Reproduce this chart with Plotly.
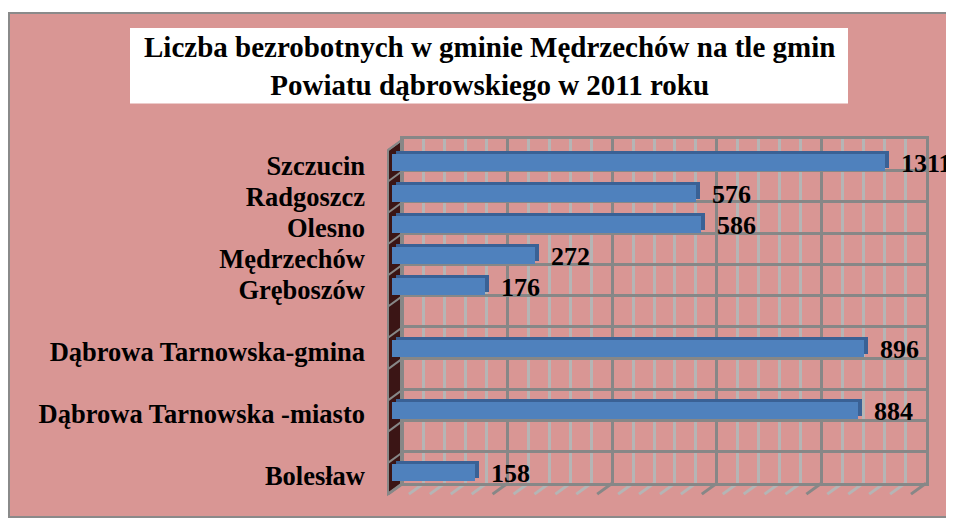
import plotly.graph_objects as go

# ---------------- data ----------------
categories = ["Szczucin", "Radgoszcz", "Olesno", "Mędrzechów", "Gręboszów", None,
              "Dąbrowa Tarnowska-gmina", None, "Dąbrowa Tarnowska -miasto", None, "Bolesław"]
label_values = [1311, 576, 586, 272, 176, None, 896, None, 884, None, 158]
# bar lengths as they are drawn in the picture (the Szczucin bar is drawn shorter than its label)
bar_lengths = [935, 576, 586, 272, 176, None, 896, None, 884, None, 158]
axis_max = 1000
major_step = 200
minor_step = 40
title_lines = ["Liczba bezrobotnych w gminie Mędrzechów na tle gmin",
               "Powiatu dąbrowskiego w 2011 roku"]

# ---------------- styling / geometry (page pixels) ----------------
PAGE_W, PAGE_H = 954, 525
OFF = 8                      # default body margin of the html page
W, H = PAGE_W - OFF, PAGE_H - OFF
def fx(px):
    return (px - OFF) / W
def fy(py):
    return 1 - (py - OFF) / H

PINK = "#D99694"
DARK_GRID = "#878787"
LIGHT_GRID = "#B5B5B5"
WALL = "#3B1515"
BAR_FRONT = "#4F81BD"
BAR_SIDE = "#3A6195"
FONT = "Liberation Serif, Times New Roman, serif"

FRONT_L, FRONT_R = 392, 919          # value axis of the bars' front faces
SLOT_T, SLOT_B = 147.7, 491.0        # category band of the front faces
BACK_L, BACK_R, BACK_T, BACK_B = 403, 926, 140, 486   # back wall
DDX, DDY = 15, 11                    # depth offset back -> front
BDX, BDY = 4, 3                      # bar depth offset

n = len(categories)
slots = [i for i, c in enumerate(categories) if c is not None]
names = [categories[i] for i in slots]
lengths = [bar_lengths[i] for i in slots]
labels = [label_values[i] for i in slots]

fig = go.Figure()

# back wall subplot (carries only the grid)
fig.add_trace(go.Scatter(x=[0], y=[0], mode="markers", marker=dict(opacity=0),
                         xaxis="x", yaxis="y", hoverinfo="skip", showlegend=False))
# shadow (top / side faces) of the 3D bars
fig.add_trace(go.Bar(orientation="h", x=lengths, y=slots, width=0.545,
                     marker=dict(color=BAR_SIDE, line=dict(width=0)),
                     xaxis="x2", yaxis="y2", hoverinfo="skip", showlegend=False))
# front faces
fig.add_trace(go.Bar(orientation="h", x=lengths, y=slots, width=0.545,
                     marker=dict(color=BAR_FRONT, line=dict(width=0)),
                     xaxis="x3", yaxis="y3", showlegend=False))

shapes = []
# chart area with border
shapes.append(dict(type="rect", xref="paper", yref="paper", x0=fx(9), x1=fx(949),
                   y0=fy(13), y1=fy(520), fillcolor=PINK,
                   line=dict(color="#8A8A8A", width=2), layer="below"))
# title box
shapes.append(dict(type="rect", xref="paper", yref="paper", x0=fx(130), x1=fx(848),
                   y0=fy(28), y1=fy(104), fillcolor="white", line=dict(width=0), layer="below"))
# left wall
shapes.append(dict(type="path", xref="paper", yref="paper",
                   path=f"M {fx(BACK_L-DDX)},{fy(BACK_T+DDY)} L {fx(BACK_L)},{fy(BACK_T)} "
                        f"L {fx(BACK_L)},{fy(BACK_B)} L {fx(BACK_L-DDX)},{fy(BACK_B+DDY)} Z",
                   fillcolor=WALL, line=dict(color=DARK_GRID, width=2), layer="below"))
# left wall diagonals
for k in range(n + 1):
    yb = BACK_T + k * (BACK_B - BACK_T) / n
    shapes.append(dict(type="line", xref="paper", yref="paper",
                       x0=fx(BACK_L), y0=fy(yb), x1=fx(BACK_L - DDX), y1=fy(yb + DDY),
                       line=dict(color=DARK_GRID, width=2), layer="below"))
# floor diagonals
for v in range(0, axis_max + 1, minor_step):
    xb = BACK_L + v / axis_max * (BACK_R - BACK_L)
    col = DARK_GRID if v % major_step == 0 else LIGHT_GRID
    shapes.append(dict(type="line", xref="paper", yref="paper",
                       x0=fx(xb), y0=fy(BACK_B), x1=fx(xb - DDX), y1=fy(BACK_B + DDY),
                       line=dict(color=col, width=3), layer="below"))

annotations = []
annotations.append(dict(xref="paper", yref="paper", x=fx(489), y=fy(66),
                        text="<br>".join(title_lines), showarrow=False,
                        font=dict(family=FONT, size=29, color="black", weight="bold"),
                        xanchor="center", yanchor="middle", align="center"))
for s, L, lab in zip(slots, lengths, labels):
    annotations.append(dict(xref="x3", yref="y3", x=L, y=s, text=str(lab), showarrow=False,
                            xanchor="left", yanchor="middle", xshift=14, yshift=-1,
                            font=dict(family=FONT, size=26, color="black", weight="bold")))

fig.update_layout(
    width=W, height=H, autosize=False,
    margin=dict(l=0, r=0, t=0, b=0),
    paper_bgcolor="white", plot_bgcolor="rgba(0,0,0,0)",
    showlegend=False, bargap=0,
    shapes=shapes, annotations=annotations,
    # back wall grid
    xaxis=dict(domain=[fx(BACK_L), fx(BACK_R)], range=[0, axis_max], anchor="y",
               showgrid=True, dtick=major_step, tick0=0, gridcolor=DARK_GRID, gridwidth=3,
               minor=dict(dtick=minor_step, tick0=0, showgrid=True, gridcolor=LIGHT_GRID, gridwidth=3),
               showticklabels=False, ticks="", zeroline=False,
               showline=True, mirror=True, linecolor=DARK_GRID, linewidth=3),
    yaxis=dict(domain=[fy(BACK_B), fy(BACK_T)], range=[n - 0.5, -0.5], anchor="x",
               tickmode="array", tickvals=[i - 0.5 for i in range(n + 1)],
               showgrid=True, gridcolor=DARK_GRID, gridwidth=3,
               showticklabels=False, ticks="", zeroline=False,
               showline=True, mirror=True, linecolor=DARK_GRID, linewidth=3),
    # bar depth faces
    xaxis2=dict(domain=[fx(FRONT_L + BDX), fx(FRONT_R + BDX)], range=[0, axis_max],
                anchor="y2", visible=False),
    yaxis2=dict(domain=[fy(SLOT_B - BDY), fy(SLOT_T - BDY)], range=[n - 0.5, -0.5],
                anchor="x2", visible=False),
    # bar front faces + category labels
    xaxis3=dict(domain=[fx(FRONT_L), fx(FRONT_R)], range=[0, axis_max],
                anchor="y3", visible=False),
    yaxis3=dict(domain=[fy(SLOT_B), fy(SLOT_T)], range=[n - 0.5, -0.5], anchor="x3",
                tickmode="array", tickvals=slots, ticktext=names,
                showgrid=False, zeroline=False, showline=False, ticks="",
                ticklabelstandoff=26, ticklabelshift=-3,
                tickfont=dict(family=FONT, size=26.5, color="black", weight="bold")),
)

fig.write_html("out.html")
